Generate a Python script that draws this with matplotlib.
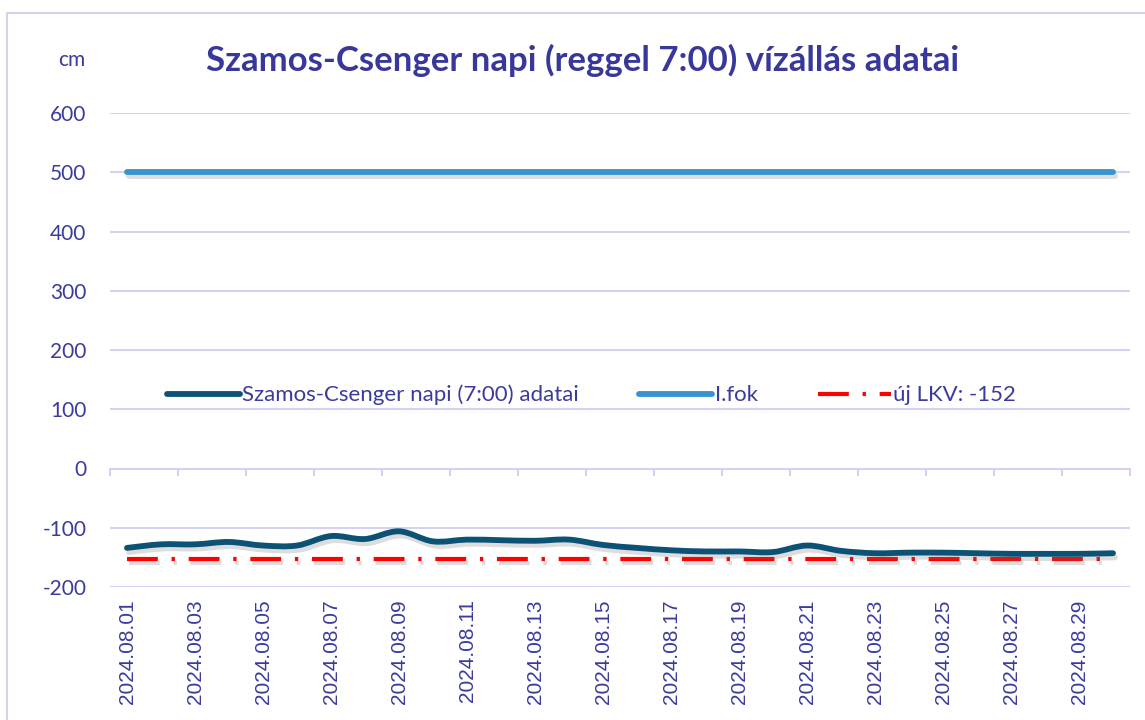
import numpy as np
import matplotlib.pyplot as plt
from matplotlib.path import Path
from matplotlib.patches import PathPatch, Rectangle
from matplotlib.lines import Line2D
import matplotlib.patheffects as pe

# Napi vízállás adatok (cm), Szamos - Csenger, reggel 7:00
datumok = [f"2024.08.{d:02d}" for d in range(1, 31)]
vizallas = [-134, -128, -128, -124, -130, -130, -114, -119, -106, -123,
            -120, -121, -122, -120, -129, -134, -138, -140, -140, -141,
            -130, -139, -143, -142, -142, -143, -144, -144, -144, -143]
I_FOK = 500
LKV = -152

TXT = '#3b3b9e'
GRID = '#d5d1f0'
SOTET = '#0c5275'
KEK = '#3893cf'

plt.rcParams['font.family'] = ['Lato', 'DejaVu Sans']

fig = plt.figure(figsize=(11.45, 7.2), dpi=100)
fig.patches.append(Rectangle((7 / 1145, -0.1), 1.2, (720 - 13) / 720 + 0.1,
                             transform=fig.transFigure, fill=False,
                             edgecolor=GRID, linewidth=1.5))
ax = fig.add_axes([110 / 1145, 1 - 587 / 720, 1020 / 1145, 474 / 720])

x = np.arange(len(vizallas))
y = np.array(vizallas, dtype=float)

# simított görbe (Catmull-Rom -> Bezier), a mért pontokon át
verts = [(x[0], y[0])]
codes = [Path.MOVETO]
n = len(x)
for i in range(n - 1):
    p0 = np.array([x[max(i - 1, 0)], y[max(i - 1, 0)]])
    p1 = np.array([x[i], y[i]])
    p2 = np.array([x[i + 1], y[i + 1]])
    p3 = np.array([x[min(i + 2, n - 1)], y[min(i + 2, n - 1)]])
    c1 = p1 + (p2 - p0) / 6
    c2 = p2 - (p3 - p1) / 6
    verts += [tuple(c1), tuple(c2), tuple(p2)]
    codes += [Path.CURVE4] * 3

arnyek = [pe.SimpleLineShadow(offset=(1.5, -3), shadow_color='#666666', alpha=0.22),
          pe.Normal()]

ax.plot(x, np.full(n, I_FOK), color=KEK, lw=4.2, solid_capstyle='round',
        path_effects=arnyek, zorder=3)
ax.plot(x, np.full(n, LKV), color='#ff0000', lw=3, dash_capstyle='butt',
        linestyle=(0, (7.4, 3.3, 0.8, 3.3)), path_effects=arnyek, zorder=3)
ax.add_patch(PathPatch(Path(verts, codes), fill=False, edgecolor=SOTET, lw=4.2,
                       capstyle='round', joinstyle='round',
                       path_effects=arnyek, zorder=4))

ax.set_xlim(-0.5, n - 0.5)
ax.set_ylim(-200, 600)
ax.set_yticks(range(-200, 601, 100))
ax.set_yticklabels([str(v) for v in range(-200, 601, 100)])
for v in range(-200, 601, 100):
    if v != 0:
        ax.axhline(v, color=GRID, lw=1.5, zorder=1)
for s in ax.spines.values():
    s.set_visible(False)
ax.tick_params(axis='y', length=0, pad=17, labelsize=15, labelcolor=TXT)

ax.set_xticks(x[::2])
ax.set_xticklabels(datumok[::2], rotation=90, fontsize=15, color=TXT,
                   family=['Liberation Sans', 'DejaVu Sans'])
ax.tick_params(axis='x', length=0, pad=9)

# vízszintes tengely a 0 szinten, osztásokkal
sec = ax.secondary_xaxis(0.25)
sec.set_xticks(np.arange(-0.5, n, 2))
sec.set_xticklabels([])
sec.tick_params(axis='x', length=5, width=1.5, color=GRID, direction='out')
sec.spines['bottom'].set_color(GRID)
sec.spines['bottom'].set_linewidth(1.5)

fig.text(72 / 1145, 1 - 60 / 720, 'cm', fontsize=15, color=TXT,
         ha='center', va='center')
fig.text(583 / 1145, 1 - 60 / 720,
         'Szamos-Csenger napi (reggel 7:00) vízállás adatai',
         fontsize=25, fontweight='bold', color='#38389a',
         ha='center', va='center')

kezelok = [Line2D([], [], color=SOTET, lw=4.2, solid_capstyle='round'),
           Line2D([], [], color=KEK, lw=4.2, solid_capstyle='round'),
           Line2D([], [], color='#ff0000', lw=3,
                  linestyle=(0, (7.4, 3.3, 0.8, 3.3)))]
ax.legend(kezelok, ['Szamos-Csenger napi (7:00) adatai', 'I.fok', 'új LKV: -152'],
          ncol=3, frameon=False, fontsize=16, labelcolor=TXT,
          handlelength=3.3, handletextpad=0.1, columnspacing=2.7,
          loc='center', bbox_to_anchor=(0.472, 1 - (395 - 113) / 474))

fig.savefig('out.png', dpi=100)
